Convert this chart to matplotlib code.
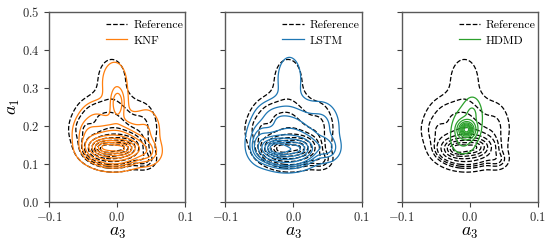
import numpy as np
import matplotlib
matplotlib.use("Agg")
import matplotlib.pyplot as plt
from matplotlib.lines import Line2D

plt.rcParams['font.family'] = 'serif'
plt.rcParams['font.serif'] = ['cmr10', 'DejaVu Serif']
plt.rcParams['mathtext.fontset'] = 'cm'
plt.rcParams['axes.formatter.use_mathtext'] = True

# ---- density pieces (centre a3, centre a1, weight, spread a3, spread a1) ----
ref_a3 = [-0.005, -0.022, 0.012, -0.005, -0.005, -0.008, -0.052, 0.040, 0.040, -0.038]
ref_a1 = [0.138, 0.140, 0.145, 0.190, 0.240, 0.320, 0.190, 0.200, 0.110, 0.240]
ref_w = [0.45, 0.10, 0.08, 0.12, 0.06, 0.06, 0.03, 0.03, 0.02, 0.02]
ref_s3 = [0.022, 0.012, 0.012, 0.030, 0.025, 0.018, 0.012, 0.012, 0.010, 0.015]
ref_s1 = [0.024, 0.015, 0.015, 0.030, 0.030, 0.050, 0.030, 0.040, 0.015, 0.025]

knf_a3 = [-0.005, -0.020, 0.010, -0.003, 0.001, -0.004, -0.045, 0.045, 0.045, -0.032]
knf_a1 = [0.138, 0.145, 0.140, 0.190, 0.260, 0.315, 0.180, 0.190, 0.130, 0.235]
knf_w = [0.45, 0.09, 0.08, 0.12, 0.03, 0.05, 0.03, 0.03, 0.03, 0.02]
knf_s3 = [0.022, 0.012, 0.012, 0.030, 0.007, 0.016, 0.012, 0.012, 0.012, 0.015]
knf_s1 = [0.024, 0.012, 0.012, 0.030, 0.025, 0.048, 0.030, 0.040, 0.020, 0.025]

lstm_a3 = [-0.010, -0.028, 0.010, -0.003, 0.000, -0.006, -0.050, 0.045, 0.050, -0.032]
lstm_a1 = [0.135, 0.142, 0.140, 0.180, 0.225, 0.325, 0.160, 0.200, 0.140, 0.230]
lstm_w = [0.42, 0.12, 0.06, 0.12, 0.08, 0.05, 0.04, 0.04, 0.03, 0.02]
lstm_s3 = [0.022, 0.012, 0.012, 0.032, 0.030, 0.015, 0.010, 0.014, 0.011, 0.016]
lstm_s1 = [0.024, 0.015, 0.015, 0.030, 0.030, 0.050, 0.030, 0.040, 0.020, 0.025]

hdmd_a3 = [-0.005, -0.005, -0.010, 0.004]
hdmd_a1 = [0.190, 0.200, 0.160, 0.235]
hdmd_w = [0.70, 0.15, 0.08, 0.07]
hdmd_s3 = [0.006, 0.014, 0.010, 0.008]
hdmd_s1 = [0.011, 0.033, 0.020, 0.026]

models = ['KNF', 'LSTM', 'HDMD']
colors = ['tab:orange', 'tab:blue', 'tab:green']

gx = np.linspace(-0.1, 0.1, 301)
gy = np.linspace(0.0, 0.5, 401)
X, Y = np.meshgrid(gx, gy)


def density(a3, a1, w, s3, s1):
    Z = np.zeros_like(X)
    for xi, yi, wi, hx, hy in zip(a3, a1, w, s3, s1):
        Z += wi / (hx * hy) * np.exp(-0.5 * ((X - xi) / hx) ** 2 - 0.5 * ((Y - yi) / hy) ** 2)
    return Z


def iso_levels(Z, n=10, thresh=0.05):
    # same iso-proportion levels as seaborn's kdeplot
    props = np.linspace(thresh, 1, n)[:-1]
    v = np.sort(Z.ravel())[::-1]
    c = np.cumsum(v) / v.sum()
    idx = np.searchsorted(c, 1 - props)
    return np.unique(v[idx])


Zref = density(ref_a3, ref_a1, ref_w, ref_s3, ref_s1)
Zmod = [density(knf_a3, knf_a1, knf_w, knf_s3, knf_s1),
        density(lstm_a3, lstm_a1, lstm_w, lstm_s3, lstm_s1),
        density(hdmd_a3, hdmd_a1, hdmd_w, hdmd_s3, hdmd_s1)]

fig, axes = plt.subplots(1, 3, figsize=(5.54, 2.46), dpi=100, sharey=True)
fig.subplots_adjust(left=0.0884, right=0.9711, bottom=0.180, top=0.9524, wspace=0.293)

for ax, name, col, Z in zip(axes, models, colors, Zmod):
    ax.contour(X, Y, Zref, levels=iso_levels(Zref), colors='k', linestyles='--', linewidths=0.9)
    ax.contour(X, Y, Z, levels=iso_levels(Z), colors=col, linestyles='-', linewidths=0.9)
    ax.set_xlim(-0.1, 0.1)
    ax.set_ylim(0, 0.5)
    ax.set_xticks([-0.1, 0.0, 0.1])
    ax.set_yticks([0.0, 0.1, 0.2, 0.3, 0.4, 0.5])
    ax.set_xlabel('$a_3$', fontsize=13, labelpad=1)
    ax.tick_params(labelsize=9, length=3.5, width=0.8, colors='0.25', labelcolor='0.15')
    for s in ax.spines.values():
        s.set_color('0.35')
        s.set_linewidth(1.0)
    handles = [Line2D([], [], color='k', ls='--', lw=0.9),
               Line2D([], [], color=col, lw=0.9)]
    ax.legend(handles, ['Reference', name], loc='upper right', bbox_to_anchor=(1.0, 0.97),
              frameon=False, fontsize=8.5, handlelength=1.8, handletextpad=0.5,
              borderaxespad=0.0, borderpad=0.2, labelspacing=0.45)

axes[0].set_ylabel('$a_1$', fontsize=13, labelpad=0)

fig.savefig('out.png', dpi=100)
